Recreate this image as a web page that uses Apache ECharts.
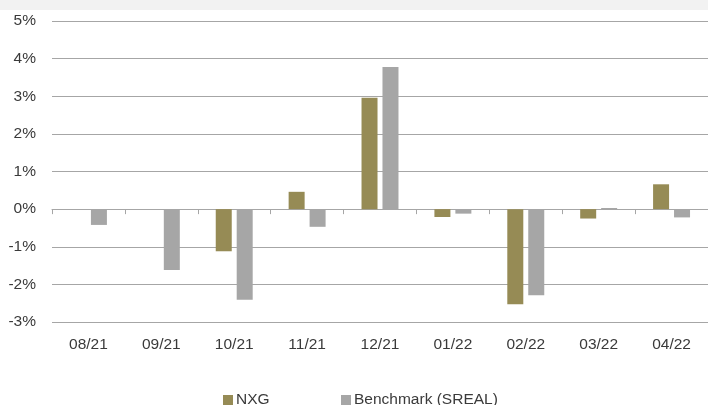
<!DOCTYPE html>
<html><head><meta charset="utf-8">
<script src="https://cdn.jsdelivr.net/npm/echarts@6/dist/echarts.min.js"></script>
<style>html,body{margin:0;padding:0;background:#fff}#c{width:708px;height:405px}</style>
</head><body><div id="c"></div>
<script>
const categories = ['08/21','09/21','10/21','11/21','12/21','01/22','02/22','03/22','04/22'];
const nxg = [null, null, -1.12, 0.46, 2.96, -0.21, -2.53, -0.25, 0.66];
const benchmark = [-0.42, -1.62, -2.41, -0.47, 3.78, -0.12, -2.29, 0.03, -0.22];
const seriesNames = ['NXG', 'Benchmark (SREAL)'];
const yTicks = {min: -3, max: 5, step: 1};

const chart = echarts.init(document.getElementById('c'));
const font = 'Liberation Sans, Arial, sans-serif';
const fs = 15.5;
const legendCommon = {
  top: 387, itemWidth: 10, itemHeight: 10, icon: 'rect',
  textStyle: {fontFamily: font, fontSize: fs, color: '#3a3a3a', padding: [0, 0, 0, -2]}
};
chart.setOption({
  animation: false,
  backgroundColor: '#fff',
  graphic: [{type: 'rect', left: 0, top: 0, shape: {width: 708, height: 10}, style: {fill: '#f2f2f2'}, silent: true}],
  grid: {left: 52, top: 21, width: 658, height: 301},
  legend: [
    Object.assign({left: 218, data: [seriesNames[0]]}, legendCommon),
    Object.assign({left: 336, data: [seriesNames[1]]}, legendCommon)
  ],
  xAxis: [{
    type: 'category', data: categories,
    axisLine: {onZero: true, lineStyle: {color: '#a6a6a6', width: 1}},
    axisTick: {show: true, length: 5, lineStyle: {color: '#a6a6a6'}},
    axisLabel: {show: false}
  }, {
    type: 'category', data: categories, position: 'bottom',
    axisLine: {show: false, onZero: false}, axisTick: {show: false},
    axisLabel: {fontFamily: font, fontSize: fs, color: '#3a3a3a', margin: 15}
  }],
  yAxis: {
    type: 'value', min: yTicks.min, max: yTicks.max, interval: yTicks.step,
    axisLine: {show: false}, axisTick: {show: false},
    axisLabel: {formatter: '{value}%', fontFamily: font, fontSize: fs, color: '#3a3a3a', margin: 16},
    splitLine: {lineStyle: {color: '#a6a6a6', width: 1}}
  },
  series: [
    {name: seriesNames[0], type: 'bar', data: nxg, barWidth: 16, barGap: '31%', itemStyle: {color: '#968b55'}},
    {name: seriesNames[1], type: 'bar', data: benchmark, barWidth: 16, itemStyle: {color: '#a6a6a6'}}
  ]
});
</script></body></html>
